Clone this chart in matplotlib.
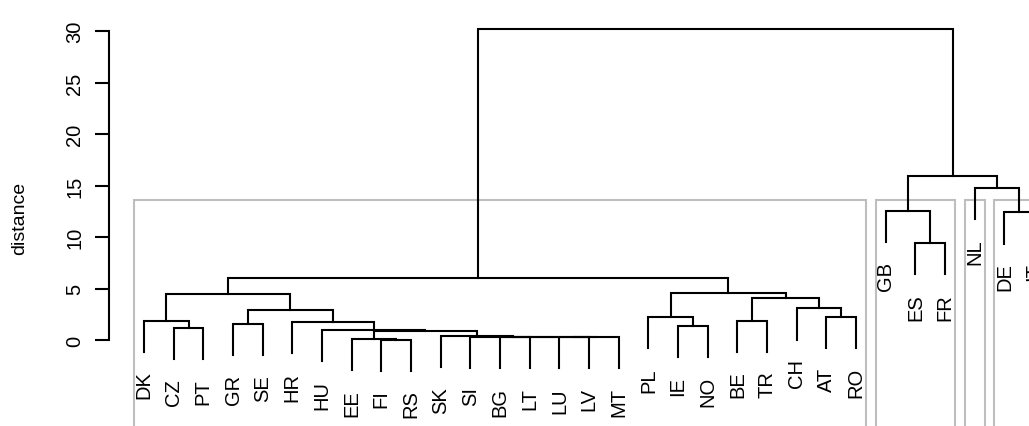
import matplotlib
matplotlib.use("Agg")
import matplotlib.pyplot as plt
from matplotlib.patches import Rectangle

plt.rcParams['font.family'] = ['Liberation Sans', 'DejaVu Sans']

# leaves in the order they are drawn along the bottom
leaf_labels = ["DK", "CZ", "PT", "GR", "SE", "HR", "HU", "EE", "FI", "RS",
               "SK", "SI", "BG", "LT", "LU", "LV", "MT", "PL", "IE", "NO",
               "BE", "TR", "CH", "AT", "RO", "GB", "ES", "FR", "NL", "DE", "IT"]

# merges, hclust style: negative = leaf number (1-based), positive = earlier merge row
merge_left = [-9, -8, -13, -15, 4, 3, -12, -11, 2, -7,
              -2, -19, -4, -6, -1, -21, -18, -24, 13, -23,
              16, 15, 17, 22, -27, -30, -26, -29, 27, 24]
merge_right = [-10, 1, -14, -16, -17, 5, 6, 7, 8, 9,
               -3, -20, -5, 10, 11, -22, 12, -25, 14, 18,
               20, 19, 21, 23, -28, -31, 25, 26, 28, 29]
merge_height = [0.03, 0.10, 0.26, 0.26, 0.30, 0.32, 0.34, 0.36, 0.85, 0.97,
                1.13, 1.33, 1.55, 1.75, 1.87, 1.87, 2.20, 2.20, 2.91, 3.07,
                4.05, 4.47, 4.56, 5.98, 9.40, 12.40, 12.50, 14.75, 15.90, 30.24]

# group sizes for the boxes (cut into 4 groups)
cluster_sizes = [25, 3, 1, 2]

fig = plt.figure(figsize=(10.29, 4.27), dpi=100)
ax = fig.add_axes([109 / 1029, 0.0, (1100 - 109) / 1029, 1.0])

px_leaf = 29.67
ax.set_xlim(1 + (109 - 144) / px_leaf, 1 + (1100 - 144) / px_leaf)
ax.set_ylim(-(427 - 341) / 10.29, 341 / 10.29)

hang = 0.1 * max(merge_height)
nodes = {}


def child_point(c, h):
    # leaves hang below their merge, merged groups start at their own height
    if c < 0:
        return -c, h - hang
    return nodes[c]


for row, (a, b, h) in enumerate(zip(merge_left, merge_right, merge_height), start=1):
    xa, ya = child_point(a, h)
    xb, yb = child_point(b, h)
    ax.plot([xa, xa, xb, xb], [ya, h, h, yb], color="black", lw=1.5,
            solid_joinstyle="miter", zorder=3)
    nodes[row] = ((xa + xb) / 2, h)
    for c, (cx, cy) in ((a, (xa, ya)), (b, (xb, yb))):
        if c < 0:
            ax.annotate(leaf_labels[-c - 1], (cx, cy), xytext=(0, -13.5),
                        textcoords="offset points", rotation=90,
                        ha="center", va="top", fontsize=14.5,
                        annotation_clip=False, zorder=4)

# boxes around the groups
k = len(cluster_sizes)
desc = sorted(merge_height, reverse=True)
box_top = (desc[k - 2] + desc[k - 1]) / 2
start = 0
for size in cluster_sizes:
    left = start + 0.66
    right = start + size + 0.33
    ax.add_patch(Rectangle((left, -20), right - left, box_top + 20,
                           fill=False, edgecolor="#bebebe", lw=1.5, zorder=2))
    start += size

# axis styling
for side in ["top", "right", "bottom"]:
    ax.spines[side].set_visible(False)
ax.spines["left"].set_bounds(0, 30)
ax.spines["left"].set_linewidth(1.5)
ax.set_xticks([])
ax.set_yticks(range(0, 31, 5))
ax.set_yticklabels([str(v) for v in range(0, 31, 5)], rotation=90,
                   va="center", fontsize=14.5)
ax.tick_params(axis="y", length=10, width=1.5, pad=8)
ax.patch.set_visible(False)

fig.text(20 / 1029, 0.489, "distance", rotation=90, ha="center", va="center",
         fontsize=14)

fig.savefig("out.png", dpi=100)
